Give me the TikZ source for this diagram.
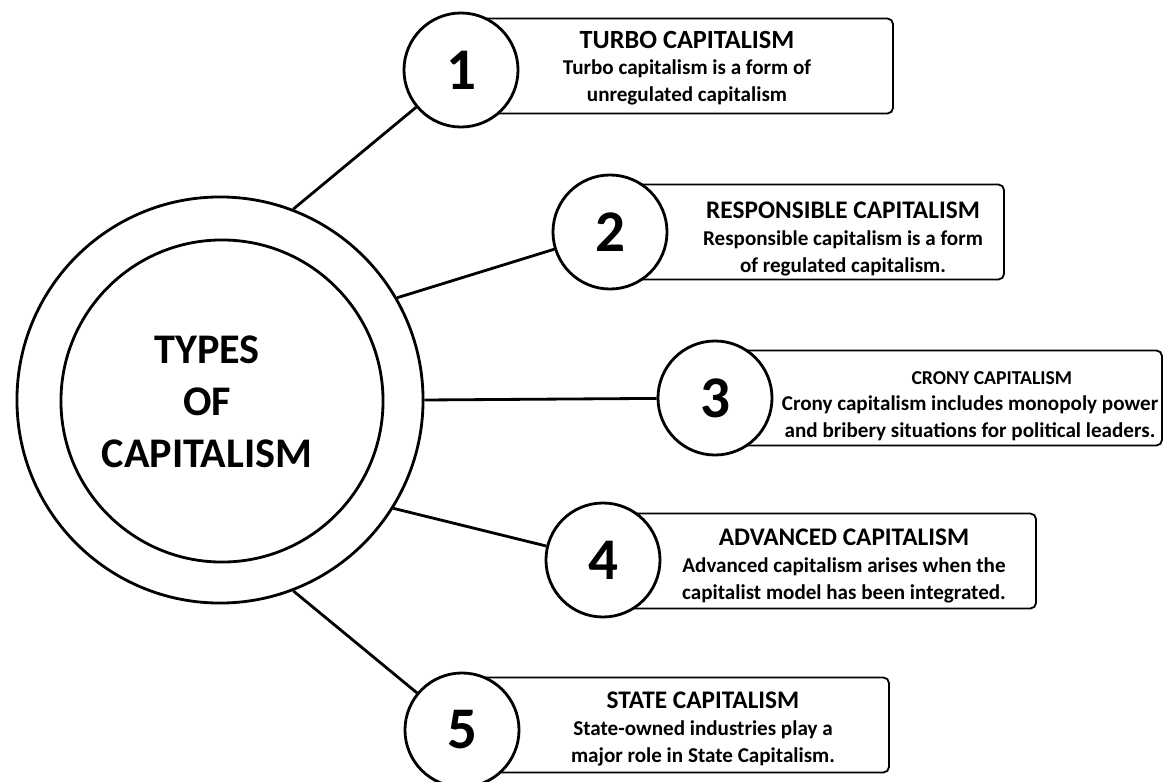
\documentclass[tikz,border=0pt]{standalone}
\usepackage{fontspec}
\setmainfont{Carlito}
\usetikzlibrary{positioning}
\tikzstyle{hub} = [circle, draw, line width=2pt, minimum size=10.15cm]
\tikzstyle{ring} = [circle, draw, line width=2pt, minimum size=8.05cm]
\tikzstyle{num} = [circle, draw, fill=white, line width=2pt,
    minimum size=2.85cm, font=\fontsize{42}{42}\selectfont\bfseries]
\tikzstyle{card} = [rectangle, draw, line width=1.3pt, anchor=west,
    rounded corners=4pt, minimum height=2.375cm]
\tikzstyle{desc} = [align=center, font=\fontsize{15}{19}\selectfont\bfseries]
\tikzstyle{line} = [draw, line width=2pt]
\newcommand{\head}[2][18]{{\fontsize{#1}{22}\selectfont #2}}

\begin{document}
\begin{tikzpicture}[x=0.025cm, y=-0.025cm]
            \useasboundingbox (0,0) rectangle (1173,782);
            % Place nodes
            \node [hub] (hub) at (220,400) {};
            \node [ring] (core) at (222,401) {};
            \node [align=center, font=\fontsize{30}{37}\selectfont\bfseries] (title) at (207,402) {TYPES\\OF\\CAPITALISM};

            \node [card, minimum width=10.775cm] (card1) at (461,66) {};
            \node [card, minimum width=9.825cm] (card2) at (610,232) {};
            \node [card, minimum width=11.15cm] (card3) at (715,398) {};
            \node [card, minimum width=10.8cm] (card4) at (603,561) {};
            \node [card, minimum width=10.65cm] (card5) at (462,725) {};

            \node [num] (n1) at (461,70) {1};
            \node [num] (n2) at (610,232) {2};
            \node [num] (n3) at (715,398) {3};
            \node [num] (n4) at (603,560) {4};
            \node [num] (n5) at (462,730) {5};

            \node [desc] (d1) at (687,68) {\head[18.7]{TURBO CAPITALISM}\\Turbo capitalism is a form of\\unregulated capitalism};
            \node [desc] (d2) at (843,239) {\head{RESPONSIBLE CAPITALISM}\\Responsible capitalism is a form\\of regulated capitalism.};
            \node [desc] (d3) at (970,406) {\hspace*{31pt}\head[14]{CRONY CAPITALISM}\\Crony capitalism includes monopoly power\\and bribery situations for political leaders.};
            \node [desc] (d4) at (844,566) {\head{ADVANCED CAPITALISM}\\Advanced capitalism arises when the\\capitalist model has been integrated.};
            \node [desc] (d5) at (703,729) {\head{STATE CAPITALISM}\\State-owned industries play a\\major role in State Capitalism.};

            % Draw edges
            \path [line] (hub.69) -- (n1);
            \path [line] (hub.30) -- (n2);
            \path [line] (hub.0) -- (n3);
            \path [line] (hub.-32) -- (n4);
            \path [line] (hub.-69) -- (n5);

        \end{tikzpicture}
\end{document}
